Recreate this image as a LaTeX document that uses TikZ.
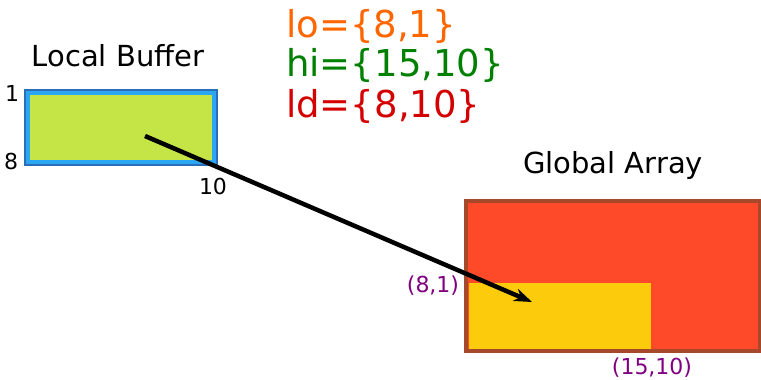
\documentclass[tikz,border=0pt]{standalone}
\usepackage{fontspec}
\setmainfont{DejaVu Sans}
\usepackage{tikz}
\usetikzlibrary{arrows.meta,positioning}
\definecolor{bufedge}{HTML}{2A6DB8}
\definecolor{buffill}{HTML}{2AA6F2}
\definecolor{bufgreen}{HTML}{C5E547}
\definecolor{gaedge}{HTML}{A8482A}
\definecolor{gafill}{HTML}{FF4A2A}
\definecolor{gapatch}{HTML}{FCCC0C}
\definecolor{loclr}{HTML}{FF6600}
\definecolor{hiclr}{HTML}{008000}
\definecolor{ldclr}{HTML}{D40000}
\definecolor{idxclr}{HTML}{800080}

\begin{document}
\begin{tikzpicture}[x=1pt,y=-1pt,
  box/.style={anchor=north west,inner sep=0pt,outer sep=0pt},
  title/.style={font=\fontsize{29}{34}\selectfont,inner sep=0pt,anchor=base},
  spec/.style={font=\fontsize{37}{44}\selectfont,inner sep=0pt,anchor=base west},
  idx/.style={font=\fontsize{22}{26}\selectfont,inner sep=0pt},
  arr/.style={-{Stealth[length=18pt,width=13pt]},line width=4.5pt}]
  \useasboundingbox (0,0) rectangle (761,380);

  % local buffer
  \node[box,draw=bufedge,fill=buffill,line width=2.5pt,minimum width=192pt,minimum height=75pt] (buf) at (25,90) {};
  \node[box,fill=bufgreen,minimum width=182pt,minimum height=65pt] (bufin) at (30,95) {};
  \node[title] (buft) at (118,66) {Local Buffer};
  \node[idx] (r1) at (12,93) {1};
  \node[idx] (r8) at (11,161) {8};
  \node[idx] (c10) at (213,186) {10};

  % global array
  \node[box,draw=gaedge,fill=gafill,line width=3.5pt,minimum width=294pt,minimum height=150pt] (ga) at (466,201) {};
  \node[box,fill=gapatch,minimum width=182pt,minimum height=66pt] (patch) at (469,283) {};
  \node[title] (gat) at (613,173) {Global Array};
  \node[idx,text=idxclr] (lo) at (433,286) {(8,1)};
  \node[idx,text=idxclr] (hi) at (652,368) {(15,10)};

  % put parameters
  \node[spec,text=loclr] (plo) at (286,37) {lo=\{8,1\}};
  \node[spec,text=hiclr] (phi) at (286,76) {hi=\{15,10\}};
  \node[spec,text=ldclr] (pld) at (286,117) {ld=\{8,10\}};

  \coordinate (src) at (145,136);
  \coordinate (dst) at (532,302);
  \draw[arr] (src) -- (dst);
\end{tikzpicture}
\end{document}
